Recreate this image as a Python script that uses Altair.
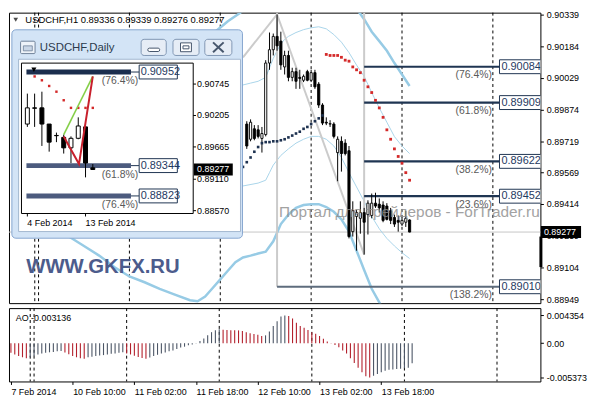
import altair as alt
import numpy as np
import pandas as pd

# ======================= DATA =======================
# H1 chart: bar index (0 = first bar, 7 Feb 2014; 6 = 10 Feb 00:00; one bar per hour)
bar_i = list(range(61, 105))
bar_open = [0.89804, 0.89730, 0.89781, 0.89776, 0.89734, 0.89753, 0.90102, 0.90167, 0.90232, 0.90209,
            0.90083, 0.90139, 0.90032, 0.90060, 0.90032, 0.90018, 0.90060, 0.90018, 0.90055, 0.89999,
            0.89897, 0.89813, 0.89804, 0.89804, 0.89665, 0.89720, 0.89711, 0.89674, 0.89279, 0.89353,
            0.89344, 0.89372, 0.89362, 0.89358, 0.89418, 0.89413, 0.89409, 0.89404, 0.89381, 0.89348,
            0.89334, 0.89316, 0.89325, 0.89336]
bar_high = [0.89818, 0.89827, 0.89799, 0.89799, 0.89790, 0.90116, 0.90251, 0.90246, 0.90339, 0.90255,
            0.90162, 0.90162, 0.90079, 0.90079, 0.90069, 0.90046, 0.90069, 0.90069, 0.90069, 0.90009,
            0.89906, 0.89837, 0.89823, 0.89813, 0.89744, 0.89744, 0.89730, 0.89697, 0.89427, 0.89386,
            0.89427, 0.89395, 0.89432, 0.89465, 0.89469, 0.89441, 0.89427, 0.89418, 0.89395, 0.89362,
            0.89358, 0.89348, 0.89381, 0.89339]
bar_low = [0.89683, 0.89720, 0.89725, 0.89734, 0.89665, 0.89744, 0.90069, 0.90139, 0.90162, 0.90069,
           0.90046, 0.90013, 0.90013, 0.89976, 0.89976, 0.90009, 0.90013, 0.90009, 0.89976, 0.89883,
           0.89799, 0.89799, 0.89790, 0.89734, 0.89525, 0.89572, 0.89651, 0.89246, 0.89255, 0.89186,
           0.89269, 0.89167, 0.89265, 0.89344, 0.89395, 0.89372, 0.89325, 0.89334, 0.89316, 0.89302,
           0.89279, 0.89307, 0.89302, 0.89276]
bar_close = [0.89697, 0.89813, 0.89734, 0.89744, 0.89758, 0.90102, 0.90167, 0.90232, 0.90186, 0.90093,
             0.90139, 0.90032, 0.90060, 0.90013, 0.90027, 0.90037, 0.90018, 0.90055, 0.89986, 0.89897,
             0.89809, 0.89809, 0.89806, 0.89744, 0.89730, 0.89660, 0.89660, 0.89255, 0.89381, 0.89372,
             0.89372, 0.89325, 0.89418, 0.89418, 0.89404, 0.89395, 0.89334, 0.89339, 0.89334, 0.89316,
             0.89325, 0.89334, 0.89344, 0.89277]

sar_up_i = list(range(60, 82))
sar_up = [0.89595, 0.89618, 0.89641, 0.89669, 0.89692, 0.89711, 0.89716, 0.89716, 0.89720, 0.89720,
          0.89725, 0.89730, 0.89739, 0.89748, 0.89758, 0.89767, 0.89781, 0.89790, 0.89804, 0.89818,
          0.89832, 0.89846]
sar_dn_i = list(range(82, 105))
sar_dn = [0.90144, 0.90139, 0.90139, 0.90139, 0.90130, 0.90116, 0.90111, 0.90083, 0.90069, 0.90055,
          0.90018, 0.89986, 0.89958, 0.89920, 0.89883, 0.89837, 0.89776, 0.89730, 0.89683, 0.89646,
          0.89613, 0.89567, 0.89530]

bb_up_i = [57, 60, 62, 64, 66, 67, 68, 69, 70, 71, 72, 74, 76, 78, 80, 82, 84, 86, 88, 90, 92, 94, 96, 98, 100, 102, 104]
bb_up = [0.89990, 0.89995, 0.90004, 0.90013, 0.90032, 0.90078, 0.90125, 0.90162, 0.90195, 0.90218, 0.90232,
         0.90251, 0.90265, 0.90274, 0.90279, 0.90269, 0.90241, 0.90204, 0.90153, 0.90092, 0.90037, 0.89958,
         0.89883, 0.89813, 0.89743, 0.89697, 0.89660]
bb_lo_i = [57, 60, 64, 66, 67, 68, 70, 72, 74, 76, 78, 80, 82, 84, 86, 88, 90, 92, 94, 96, 98, 100, 102, 104]
bb_lo = [0.89495, 0.89502, 0.89516, 0.89530, 0.89567, 0.89604, 0.89651, 0.89683, 0.89711, 0.89730, 0.89744,
         0.89744, 0.89730, 0.89697, 0.89641, 0.89567, 0.89497, 0.89427, 0.89353, 0.89293, 0.89246, 0.89209,
         0.89176, 0.89148]
env_up_i = [48, 50, 53, 56, 59, 62, 70, 80, 86, 90, 92, 94, 96, 98, 100, 102, 104]
env_up = [0.90140, 0.90186, 0.90260, 0.90306, 0.90344, 0.90386, 0.90441, 0.90451, 0.90413, 0.90367, 0.90316,
          0.90255, 0.90209, 0.90162, 0.90102, 0.90046, 0.89990]
env_lo_i = [14, 18, 22, 26, 30, 34, 38, 42, 46, 48, 50, 52, 54, 56, 58, 60, 62, 64, 66, 68, 70, 72, 74, 76,
            78, 80, 82, 84, 86, 88, 90, 92, 94, 96, 98]
env_lo = [0.89255, 0.89209, 0.89162, 0.89106, 0.89060, 0.89032, 0.89000, 0.88972, 0.88944, 0.88939, 0.88962,
          0.89004, 0.89046, 0.89088, 0.89130, 0.89153, 0.89162, 0.89172, 0.89181, 0.89232, 0.89316, 0.89362,
          0.89395, 0.89409, 0.89413, 0.89413, 0.89399, 0.89376, 0.89339, 0.89279, 0.89186, 0.89092, 0.89000,
          0.88934, 0.88869]

fib_price = [0.90084, 0.89909, 0.89622, 0.89452, 0.89010]
fib_pct = ["(76.4%)", "(61.8%)", "(38.2%)", "(23.6%)", "(138.2%)"]
fib_from = [92, 92, 92, 92, 69]
fib_to = 127.75
swing_hi_i, swing_hi = 69, 0.90339
swing_lo_i, swing_lo = 92, 0.89167
left_line_i, left_line_p = 60, 0.90130

sep_i = [5, 6, 30, 54, 78, 102, 126]
last_price = 0.89277
range_bar = [0.89255, 0.89106]

y_ticks = [0.90339, 0.90184, 0.90029, 0.89874, 0.89719, 0.89569, 0.89414, 0.89259, 0.89104, 0.88949]
x_tick_i = [0, 16, 32, 48, 64, 80, 96]
x_tick_lbl = ["7 Feb 2014", "10 Feb 10:00", "11 Feb 02:00", "11 Feb 18:00", "12 Feb 10:00",
              "13 Feb 02:00", "13 Feb 18:00"]

ao = [-0.00152, -0.00177, -0.00202, -0.00221, -0.00236, -0.00221, -0.00202, -0.00177, -0.00162, -0.00152,
      -0.00143, -0.00137, -0.00128, -0.00123, -0.00148, -0.00173, -0.00202, -0.00221, -0.00236, -0.00246,
      -0.00221, -0.00211, -0.00202, -0.00192, -0.00187, -0.00177, -0.00167, -0.00162, -0.00152, -0.00143,
      -0.00162, -0.00177, -0.00196, -0.00217, -0.00232, -0.00246, -0.00226, -0.00202, -0.00182, -0.00162,
      -0.00148, -0.00128, -0.00114, -0.00093, -0.00069, -0.00055, -0.00034, -0.00019, 0.00004, 0.00034,
      0.00074, 0.00123, 0.00173, 0.00202, 0.00217, 0.00211, 0.00208, 0.00205, 0.00204, 0.00201,
      0.00192, 0.00173, 0.00158, 0.00143, 0.00133, 0.00114, 0.00123, 0.00182, 0.00270, 0.00344,
      0.00418, 0.004354, 0.00428, 0.00388, 0.00320, 0.00270, 0.00241, 0.00207, 0.00173, 0.00148,
      0.00114, 0.00069, 0.00025, 0.00004, -0.00030, -0.00063, -0.00114, -0.00162, -0.00236, -0.00310,
      -0.00384, -0.00458, -0.00520, -0.005373, -0.00510, -0.00483, -0.00458, -0.00432, -0.00418, -0.00412,
      -0.00406, -0.00400, -0.00393, -0.00384, -0.003136]
ao_ticks = [0.004354, 0.0, -0.005373]

# Daily inset (candle number 1 = 4 Feb 2014 ... 10 = 14 Feb 2014)
d_k = list(range(1, 11))
d_open = [0.90058, 0.90336, 0.90336, 0.90058, 0.89862, 0.89829, 0.89649, 0.89813, 0.90009, 0.89306]
d_high = [0.90581, 0.90581, 0.90614, 0.90058, 0.89911, 0.89878, 0.89846, 0.90173, 0.90075, 0.89371]
d_low = [0.90009, 0.90009, 0.89682, 0.89584, 0.89747, 0.89551, 0.89388, 0.89797, 0.89142, 0.89273]
d_close = [0.90336, 0.90330, 0.90058, 0.89747, 0.89858, 0.89649, 0.89813, 0.90025, 0.89388, 0.89277]
d_sar_k = list(range(2, 11))
d_sar = [0.90876, 0.90810, 0.90712, 0.90614, 0.90467, 0.90336, 0.90336, 0.90336, 0.90336]
d_fib = [0.90952, 0.89344, 0.88823]
d_fib_pct = ["(76.4%)", "(61.8%)", "(76.4%)"]
d_ticks = [0.90745, 0.90205, 0.89665, 0.89110, 0.88570]
d_green_k, d_green = [6, 10], [0.89878, 0.90876]
d_red_k, d_red = [6, 8.1, 10], [0.89845, 0.89371, 0.90876]
d_marker_k, d_marker = 1.9, 0.90990
d_xlbl_k = [1, 9]
d_xlbl = ["4 Feb 2014", "13 Feb 2014"]

# ======================= LAYOUT =======================
W, HM, HA = 536, 293, 74
FONT = "Liberation Sans"
NAVY = "#1f3552"

xs = alt.Scale(domain=[-0.5, 137.25], nice=False, zero=False)
ys = alt.Scale(domain=[0.88930, 0.90348], nice=False, zero=False)
y_axis = alt.Axis(orient="right", values=y_ticks, format=".5f", tickSize=3, labelPadding=3,
                  labelFontSize=9, labelFont=FONT, labelColor="black", tickColor="black",
                  domain=False, grid=False, title=None, labelOverlap=False, labelFlush=False)


def X(f):
    return alt.X(f, type="quantitative", scale=xs, axis=None)


def Y(f):
    return alt.Y(f, type="quantitative", scale=ys, axis=y_axis)


one = pd.DataFrame({"a": [0]})

# ---- main frames ----
df_bars = pd.DataFrame({"i": bar_i, "o": bar_open, "h": bar_high, "l": bar_low, "c": bar_close})
df_bars["dir"] = np.where(df_bars["c"] < df_bars["o"], "down", "up")
df_sep = pd.DataFrame({"i": sep_i})
df_env = pd.concat([pd.DataFrame({"i": env_up_i, "p": env_up, "g": "u"}),
                    pd.DataFrame({"i": env_lo_i, "p": env_lo, "g": "l"})])
df_bb = pd.concat([pd.DataFrame({"i": bb_up_i, "p": bb_up, "g": "u"}),
                   pd.DataFrame({"i": bb_lo_i, "p": bb_lo, "g": "l"})])
top = ys.domain[1]
df_trend = pd.DataFrame({
    "i": [swing_hi_i, swing_lo_i, swing_hi_i, left_line_i],
    "i2": [swing_hi_i, swing_lo_i, swing_lo_i, swing_hi_i],
    "p": [fib_price[-1], swing_lo, swing_hi, left_line_p],
    "p2": [top, top, swing_lo, swing_hi],
})
df_fib = pd.DataFrame({"p": fib_price, "pct": fib_pct, "i1": fib_from, "i2": fib_to})
df_fib["lbl"] = [f"{v:.5f}" for v in fib_price]
df_fib["bx2"] = fib_to + 12
df_fib["px"] = fib_to - 2
df_fib_main = df_fib.iloc[:4]
df_fib_ext = df_fib.iloc[4:]

sep = alt.Chart(df_sep).mark_rule(color="black", strokeDash=[3, 3], strokeWidth=1).encode(x=X("i"))
pline = alt.Chart(pd.DataFrame({"p": [last_price]})).mark_rule(color="#c6c6c6", strokeWidth=1).encode(y=Y("p"))
env = alt.Chart(df_env).mark_line(color="#97cbe5", strokeWidth=2.5, clip=True).encode(
    x=X("i"), y=Y("p"), detail="g:N")
bb = alt.Chart(df_bb).mark_line(color="#a9d5ea", strokeWidth=1, clip=True).encode(
    x=X("i"), y=Y("p"), detail="g:N")
trend = alt.Chart(df_trend).mark_rule(color="#cbcbcb", strokeWidth=2, clip=True).encode(
    x=X("i"), x2="i2", y=Y("p"), y2="p2")
fibl = alt.Chart(df_fib_main).mark_rule(strokeWidth=2.2, color=NAVY).encode(x=X("i1"), x2="i2", y=Y("p"))
fibl2 = alt.Chart(df_fib_ext).mark_rule(strokeWidth=2.2, color="#5e6c7d").encode(x=X("i1"), x2="i2", y=Y("p"))
fibbox = alt.Chart(df_fib).mark_rect(fill="white", stroke=NAVY, strokeWidth=1, clip=True,
                                     yOffset=-7, y2Offset=7).encode(x=X("i2"), x2="bx2", y=Y("p"), y2="p")
fibtxt = alt.Chart(df_fib).mark_text(align="left", baseline="middle", dx=2, fontSize=11, font=FONT,
                                     color="#1f3a5f", clip=True).encode(x=X("i2"), y=Y("p"), text="lbl")
fibpct = alt.Chart(df_fib).mark_text(align="right", baseline="middle", dy=8.5, fontSize=10.5, font=FONT,
                                     color="#5a5a5a").encode(x=X("px"), y=Y("p"), text="pct")
wick = alt.Chart(df_bars).mark_rule(color="black", strokeWidth=1).encode(x=X("i"), y=Y("l"), y2="h")
body = alt.Chart(df_bars).mark_bar(size=2.2, stroke="black", strokeWidth=0.9).encode(
    x=X("i"), y=Y("o"), y2="c",
    fill=alt.Fill("dir:N", scale=alt.Scale(domain=["down", "up"], range=["black", "white"]), legend=None))
sar_u = alt.Chart(pd.DataFrame({"i": sar_up_i, "p": sar_up})).mark_square(
    size=7, color="#1e3250", opacity=1).encode(x=X("i"), y=Y("p"))
sar_d = alt.Chart(pd.DataFrame({"i": sar_dn_i, "p": sar_dn})).mark_square(
    size=8, color="#d42a2a", opacity=1).encode(x=X("i"), y=Y("p"))
wmark = alt.Chart(pd.DataFrame({"i": [69.5], "p": [0.89376], "t": ["Портал для трейдеров - ForTrader.ru"]})
                  ).mark_text(align="left", baseline="middle", fontSize=15.5, font=FONT, color="#8c8c8c",
                              opacity=0.8).encode(x=X("i"), y=Y("p"), text="t")
gkfx = alt.Chart(pd.DataFrame({"i": [2.75], "p": [0.89106], "t": ["WWW.GKFX.RU"]})
                 ).mark_text(align="left", baseline="middle", fontSize=20.5, fontWeight="bold", font=FONT,
                             color="#4c5c8c").encode(x=X("i"), y=Y("p"), text="t")
title_tri = alt.Chart(one).mark_point(shape="triangle-down", filled=True, size=22, color="black").encode(
    x=alt.value(6.8), y=alt.value(7.2))
title = alt.Chart(one).mark_text(align="left", baseline="middle", fontSize=9.5, font=FONT, color="black").encode(
    x=alt.value(16.5), y=alt.value(7.7),
    text=alt.value("USDCHF,H1  0.89336 0.89339 0.89276 0.89277"))
df_last = pd.DataFrame({"p": [last_price], "t": [f"{last_price:.5f}"]})
pbox = alt.Chart(df_last).mark_rect(color="black", clip=False, yOffset=-6, y2Offset=6).encode(
    x=alt.value(W + 0.5), x2=alt.value(W + 41), y=Y("p"), y2="p")
ptxt = alt.Chart(df_last).mark_text(align="left", baseline="middle", fontSize=9, font=FONT,
                                    color="white", clip=False).encode(x=alt.value(W + 3.5), y=Y("p"), text="t")
rbar = alt.Chart(pd.DataFrame({"p": [range_bar[0]], "p2": [range_bar[1]]})).mark_rect(
    color="black", clip=False).encode(x=alt.value(W - 1), x2=alt.value(W + 2), y=Y("p"), y2="p2")

main_layer = alt.layer(sep, pline, env, bb, trend, fibl, fibl2, fibbox, fibtxt, fibpct, wick, body,
                       sar_u, sar_d, wmark, gkfx, title_tri, title, rbar, pbox, ptxt)

# ---- inset (Daily) ----
xi = alt.Scale(domain=[0.875, 23.125], range=[12.6, 185.8], nice=False, zero=False)
yi = alt.Scale(domain=[0.88521, 0.91105], range=[202.6, 50.9], nice=False, zero=False)


def XI(f):
    return alt.X(f, type="quantitative", scale=xi, axis=None)


def YI(f):
    return alt.Y(f, type="quantitative", scale=yi, axis=None)


def box(x1, x2, y1, y2, **kw):
    return alt.Chart(one).mark_rect(**kw).encode(
        x=alt.value(x1), x2=alt.value(x2), y=alt.value(y1), y2=alt.value(y2))


def seg(x1, y1, x2, y2, **kw):
    return alt.Chart(one).mark_rule(**kw).encode(
        x=alt.value(x1), x2=alt.value(x2), y=alt.value(y1), y2=alt.value(y2))


BTN = dict(fill="#e6edf6", stroke="#8197b3", strokeWidth=1, cornerRadius=3)
GL = "#46566c"
frame = [
    box(2.9, 235.5, 17.3, 227.5, fill="#d3e4f6", stroke="#86a6cf", strokeWidth=1, cornerRadius=4),
    box(9.7, 233.5, 47.0, 220.8, fill="white", stroke="#a3b7cf", strokeWidth=1),
    box(12.6, 185.8, 50.9, 202.6, fill="white", stroke="black", strokeWidth=1),
    box(11.7, 26.3, 28.8, 41.3, fill="#eef3f9", stroke="#6f8299", strokeWidth=1, cornerRadius=1),
    box(14.5, 23.5, 33.5, 38.5, fill="#c9d6e6", stroke="#6f8299", strokeWidth=0.8),
    alt.Chart(one).mark_text(align="left", baseline="middle", fontSize=11.5, font=FONT, color="#2b3a4c").encode(
        x=alt.value(31.1), y=alt.value(35.5), text=alt.value("USDCHF,Daily")),
    box(133.3, 158.6, 26.9, 43.2, **BTN),
    box(165.4, 191.7, 26.9, 43.2, **BTN),
    box(197.5, 224.8, 26.9, 43.2, **BTN),
    box(140.0, 152.0, 35.8, 39.2, fill="white", stroke=GL, strokeWidth=1, cornerRadius=1.5),
    box(173.0, 184.0, 30.5, 39.4, fill="white", stroke=GL, strokeWidth=1),
    box(175.5, 181.5, 33.5, 36.5, fill="white", stroke=GL, strokeWidth=1),
    seg(205.8, 30.0, 216.5, 40.0, stroke=GL, strokeWidth=2),
    seg(205.8, 40.0, 216.5, 30.0, stroke=GL, strokeWidth=2),
]

df_dc = pd.DataFrame({"k": d_k, "o": d_open, "h": d_high, "l": d_low, "c": d_close})
df_dc["dir"] = np.where(df_dc["c"] < df_dc["o"], "down", "up")
df_dfib = pd.DataFrame({"p": d_fib, "pct": d_fib_pct,
                        "k1": 0.875, "k2": 15.25, "b1": 16.375, "b2": 21.625, "pk": 16.25})
df_dfib["lbl"] = [f"{v:.5f}" for v in d_fib]
df_dt = pd.DataFrame({"p": d_ticks})
df_dt["t"] = [f"{v:.5f}" for v in d_ticks]
df_dx = pd.DataFrame({"k": d_xlbl_k, "t": d_xlbl})
df_dl = pd.DataFrame({"p": [last_price], "t": [f"{last_price:.5f}"]})

inset = frame + [
    alt.Chart(df_dfib.iloc[:1]).mark_rule(strokeWidth=5, color="#1b2e4e").encode(
        x=XI("k1"), x2="k2", y=YI("p")),
    alt.Chart(df_dfib.iloc[1:]).mark_rule(strokeWidth=5, color="#4c5b7e").encode(
        x=XI("k1"), x2="k2", y=YI("p")),
    alt.Chart(df_dfib).mark_rule(strokeWidth=1, color=NAVY).encode(x=XI("k2"), x2="b1", y=YI("p")),
    alt.Chart(df_dfib).mark_rect(fill="white", stroke=NAVY, strokeWidth=1, yOffset=-7, y2Offset=7).encode(
        x=XI("b1"), x2="b2", y=YI("p"), y2="p"),
    alt.Chart(df_dfib).mark_text(align="left", baseline="middle", dx=1.5, fontSize=11, font=FONT,
                                 color="#1f3a5f").encode(x=XI("b1"), y=YI("p"), text="lbl"),
    alt.Chart(df_dfib).mark_text(align="right", baseline="middle", dy=9, fontSize=10.5, font=FONT,
                                 color="#5a5a5a").encode(x=XI("pk"), y=YI("p"), text="pct"),
    alt.Chart(df_dc).mark_rule(color="black", strokeWidth=1).encode(x=XI("k"), y=YI("l"), y2="h"),
    alt.Chart(df_dc).mark_bar(size=4, stroke="black", strokeWidth=1).encode(
        x=XI("k"), y=YI("o"), y2="c",
        fill=alt.Fill("dir:N", scale=alt.Scale(domain=["down", "up"], range=["black", "white"]), legend=None)),
    alt.Chart(pd.DataFrame({"k": d_sar_k, "p": d_sar})).mark_square(size=6, color="#d42a2a", opacity=1).encode(
        x=XI("k"), y=YI("p")),
    alt.Chart(pd.DataFrame({"k": d_green_k, "p": d_green})).mark_line(strokeWidth=1.6, color="#86d04a").encode(
        x=XI("k"), y=YI("p")),
    alt.Chart(pd.DataFrame({"k": d_red_k, "p": d_red})).mark_line(strokeWidth=2, color="#c8202c").encode(
        x=XI("k"), y=YI("p")),
    alt.Chart(pd.DataFrame({"k": [d_marker_k], "p": [d_marker]})).mark_point(
        shape="triangle-down", filled=True, size=26, color="black", opacity=1).encode(x=XI("k"), y=YI("p")),
    alt.Chart(df_dt).mark_rule(color="black").encode(x=alt.value(185.8), x2=alt.value(188.6), y=YI("p")),
    alt.Chart(df_dt).mark_text(align="left", baseline="middle", fontSize=9, font=FONT, color="black").encode(
        x=alt.value(189.7), y=YI("p"), text="t"),
    alt.Chart(df_dx).mark_rule(color="black").encode(x=XI("k"), y=alt.value(202.6), y2=alt.value(205.6)),
    alt.Chart(df_dx).mark_text(align="left", baseline="middle", fontSize=9, font=FONT, color="black").encode(
        x=XI("k"), y=alt.value(212.5), text="t"),
    alt.Chart(df_dl).mark_rect(color="black", yOffset=-6, y2Offset=6).encode(
        x=alt.value(186.5), x2=alt.value(225.7), y=YI("p"), y2="p"),
    alt.Chart(df_dl).mark_text(align="left", baseline="middle", fontSize=9, font=FONT, color="white").encode(
        x=alt.value(189.7), y=YI("p"), text="t"),
]
inset_layer = alt.layer(*inset)

main = alt.layer(main_layer, inset_layer).resolve_scale(
    x="independent", y="independent", fill="independent"
).properties(width=W, height=HM)

# ---- AO panel ----
expr = "''"
for v, lab in reversed(list(zip(x_tick_i, x_tick_lbl))):
    expr = f"datum.value == {v} ? '{lab}' : ({expr})"
ao_xs = alt.Scale(domain=[-0.5, 137.25], nice=False, zero=False)
ao_xaxis = alt.Axis(values=x_tick_i, labelExpr=expr, labelAlign="left", labelPadding=3, tickSize=3,
                    labelFontSize=9, labelFont=FONT, labelColor="black", tickColor="black", domain=False,
                    grid=False, title=None, labelOverlap=False, labelFlush=False, labelBound=False)
ao_ys = alt.Scale(domain=[-0.00601, 0.00551], nice=False, zero=False)
ao_yaxis = alt.Axis(orient="right", values=ao_ticks,
                    labelExpr="datum.value == 0 ? '0.00' : replace(format(datum.value, '.6f'), '\u2212', '-')",
                    tickSize=3, labelPadding=3, labelFontSize=9, labelFont=FONT, labelColor="black",
                    tickColor="black", domain=False, grid=False, title=None, labelOverlap=False,
                    labelFlush=False)

df_ao = pd.DataFrame({"i": list(range(len(ao))), "ao": ao})
df_ao["dir"] = np.where(df_ao["ao"].diff() > 0, "up", "down")
df_ao["zero"] = 0.0

ao_sep = alt.Chart(df_sep).mark_rule(color="black", strokeDash=[3, 3], strokeWidth=1).encode(
    x=alt.X("i:Q", scale=ao_xs, axis=ao_xaxis))
ao_bars = alt.Chart(df_ao).mark_rule(strokeWidth=1.1).encode(
    x=alt.X("i:Q", scale=ao_xs, axis=ao_xaxis),
    y=alt.Y("ao:Q", scale=ao_ys, axis=ao_yaxis), y2="zero",
    color=alt.Color("dir:N", scale=alt.Scale(domain=["down", "up"], range=["#b3202c", "#4c5666"]), legend=None))
ao_lbl = alt.Chart(one).mark_text(align="left", baseline="middle", fontSize=9, font=FONT, color="black").encode(
    x=alt.value(6.8), y=alt.value(9.6), text=alt.value(f"AO {ao[-1]:.6f}"))
ao_chart = alt.layer(ao_sep, ao_bars, ao_lbl).properties(width=W, height=HA)

chart = alt.vconcat(main, ao_chart, spacing=2, padding=0, background="white").resolve_scale(
    x="independent", y="independent", color="independent", fill="independent"
).configure_view(stroke="black", strokeWidth=1)

chart.save("out.html", embed_options={"renderer": "svg", "actions": False})
